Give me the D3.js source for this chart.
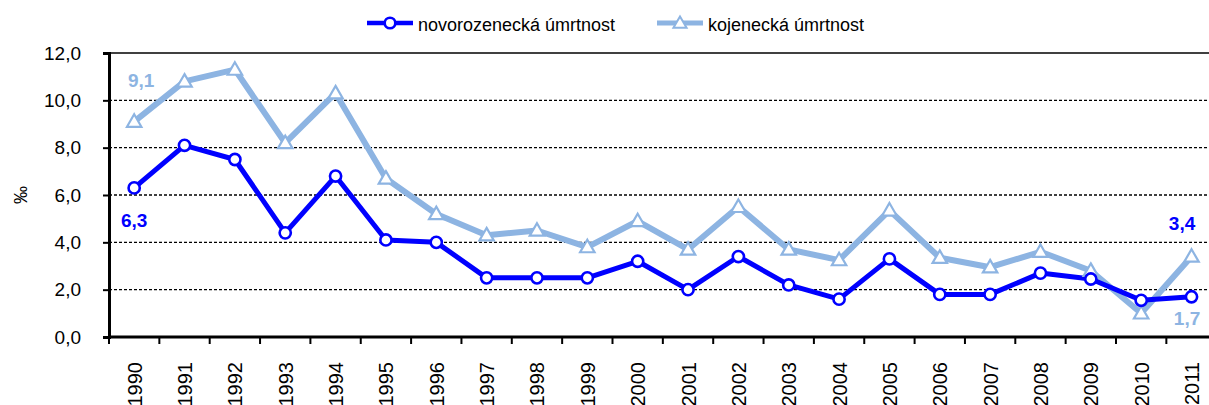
<!DOCTYPE html>
<html><head><meta charset="utf-8">
<script src="https://cdn.jsdelivr.net/npm/d3@7"></script>
<style>body{margin:0;background:#fff}svg{display:block}text{font-family:"Liberation Sans",Arial,sans-serif}</style>
</head><body><svg id="c" width="1209" height="405"></svg>
<script>
const years = ["1990","1991","1992","1993","1994","1995","1996","1997","1998","1999","2000","2001","2002","2003","2004","2005","2006","2007","2008","2009","2010","2011"];
const novorozenecka = [6.3,8.1,7.5,4.4,6.8,4.1,4.0,2.5,2.5,2.5,3.2,2.0,3.4,2.2,1.6,3.3,1.8,1.8,2.7,2.45,1.55,1.7];
const kojenecka = [9.1,10.8,11.3,8.2,10.3,6.7,5.2,4.3,4.5,3.8,4.9,3.7,5.5,3.7,3.25,5.35,3.35,2.95,3.6,2.8,1.0,3.4];
const yTicks = [0,2,4,6,8,10,12];
const seriesNames = ["novorozenecká úmrtnost","kojenecká úmrtnost"];

const svg = d3.select("#c");
const L=109, T=53, B=337, step=50.35;
const x = d3.scaleBand().domain(years).range([L, L+step*years.length]);
const y = d3.scaleLinear().domain([0,12]).range([B,T]);
const cx = d => x(d)+x.bandwidth()/2;
const dark="#0000FF", light="#8DB4E2";

// gridlines
svg.append("g").selectAll("line").data(yTicks.filter(v=>v>0&&v<12)).join("line")
  .attr("x1",L).attr("x2",1209).attr("y1",d=>y(d)).attr("y2",d=>y(d))
  .attr("stroke","#000").attr("stroke-width",1.3).attr("stroke-dasharray","3,2");
// top border
svg.append("line").attr("x1",L).attr("x2",1209).attr("y1",T).attr("y2",T).attr("stroke","#000").attr("stroke-width",1.5);

// y axis
const ya = svg.append("g").attr("transform",`translate(${L},0)`)
  .call(d3.axisLeft(y).tickValues(yTicks).tickSize(6).tickPadding(22).tickFormat(d=>d3.format(".1f")(d).replace(".",",")));
ya.select(".domain").attr("stroke-width",3);
ya.selectAll(".tick line").attr("stroke-width",2);
ya.selectAll("text").attr("font-size",19).attr("fill","#000").style("font-family","Liberation Sans, Arial");

// x axis
const xa = svg.append("g").attr("transform",`translate(0,${B})`)
  .call(d3.axisBottom(x).tickSize(0).tickFormat(""));
xa.select(".domain").attr("stroke-width",3).attr("d",`M${L},0H1209`);
svg.append("g").selectAll("line").data(d3.range(years.length+1)).join("line")
  .attr("x1",i=>L+i*step).attr("x2",i=>L+i*step).attr("y1",B).attr("y2",B+7)
  .attr("stroke","#000").attr("stroke-width",2);
svg.append("g").selectAll("text").data(years).join("text")
  .attr("transform",d=>`translate(${cx(d)+7.5},${B+25}) rotate(-90)`)
  .attr("text-anchor","end").attr("font-size",20).text(d=>d);

// y label
svg.append("text").attr("transform","translate(27,195) rotate(-90)").attr("text-anchor","middle")
  .attr("font-size",18).text("‰");

const line = d3.line().x((d,i)=>cx(years[i])).y(d=>y(d));
svg.append("path").datum(kojenecka).attr("d",line).attr("fill","none").attr("stroke",light).attr("stroke-width",6).attr("stroke-linejoin","round");
svg.append("path").datum(novorozenecka).attr("d",line).attr("fill","none").attr("stroke",dark).attr("stroke-width",5).attr("stroke-linejoin","round");

const tri = d3.symbol().type(d3.symbolTriangle).size(90);
svg.append("g").selectAll("path").data(kojenecka).join("path")
  .attr("d",tri).attr("transform",(d,i)=>`translate(${cx(years[i])},${y(d)+1})`)
  .attr("fill","#fff").attr("stroke",light).attr("stroke-width",2.2);
svg.append("g").selectAll("circle").data(novorozenecka).join("circle")
  .attr("cx",(d,i)=>cx(years[i])).attr("cy",d=>y(d)).attr("r",5.6)
  .attr("fill","#fff").attr("stroke",dark).attr("stroke-width",2.6);

// data labels
const fmt = v=>d3.format(".1f")(v).replace(".",",");
const lab = (t,xx,yy,c)=>svg.append("text").attr("x",xx).attr("y",yy).attr("text-anchor","middle")
  .attr("font-size",19).attr("font-weight","bold").attr("fill",c).text(t);
lab(fmt(kojenecka[0]), cx(years[0])+7, y(kojenecka[0])-35, light);
lab(fmt(novorozenecka[0]), cx(years[0]), y(novorozenecka[0])+39, dark);
lab(fmt(kojenecka[21]), cx(years[21])-9.5, y(kojenecka[21])-27, dark);
lab(fmt(novorozenecka[21]), cx(years[21])-4.5, y(novorozenecka[21])+28, light);

// legend
const lg = svg.append("g");
lg.append("line").attr("x1",367).attr("x2",413).attr("y1",23).attr("y2",23).attr("stroke",dark).attr("stroke-width",4.5);
lg.append("circle").attr("cx",390).attr("cy",23).attr("r",5.3).attr("fill","#fff").attr("stroke",dark).attr("stroke-width",2.6);
lg.append("text").attr("x",418).attr("y",31).attr("font-size",18).text(seriesNames[0]);
lg.append("line").attr("x1",657).attr("x2",703).attr("y1",23).attr("y2",23).attr("stroke",light).attr("stroke-width",5);
lg.append("path").attr("d",d3.symbol().type(d3.symbolTriangle).size(75)).attr("transform","translate(680,24)").attr("fill","#fff").attr("stroke",light).attr("stroke-width",2);
lg.append("text").attr("x",708).attr("y",31).attr("font-size",18).text(seriesNames[1]);
</script></body></html>
